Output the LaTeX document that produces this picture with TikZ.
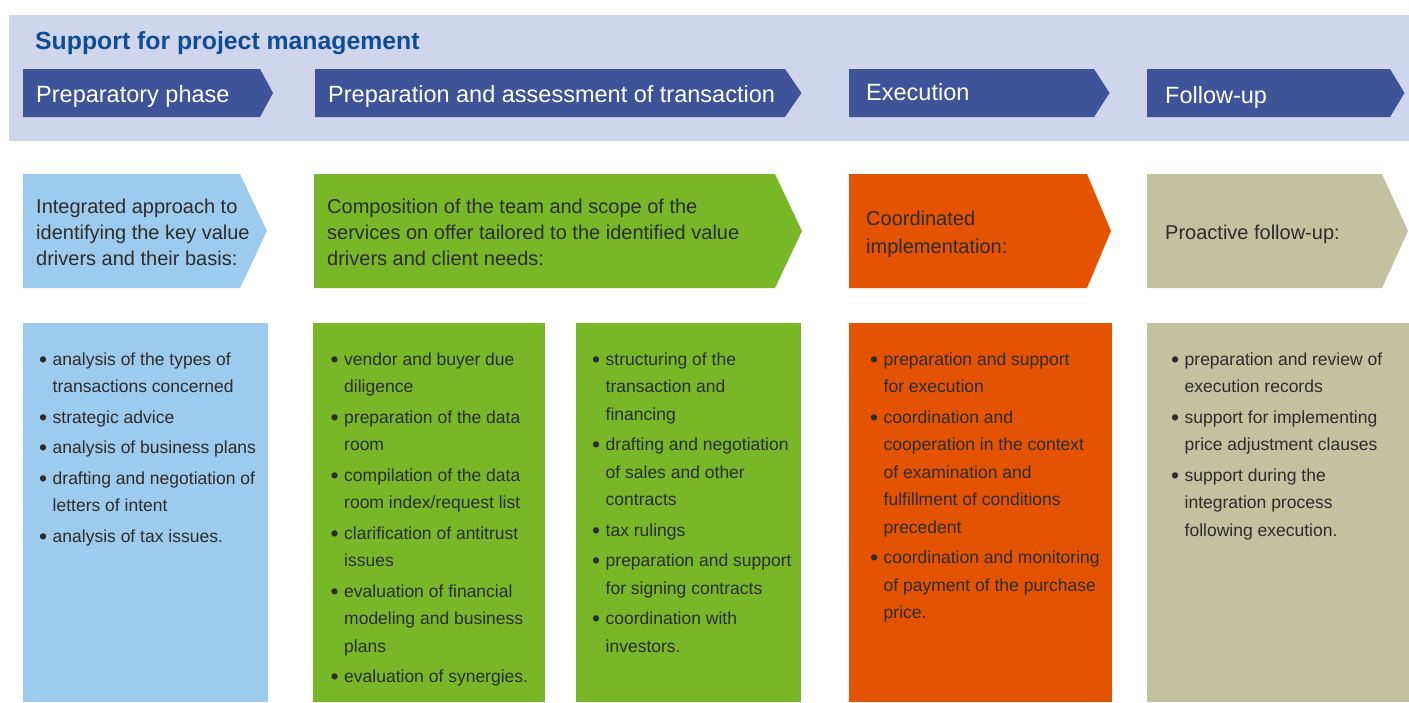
\documentclass[tikz,border=0pt]{standalone}
\usepackage{fontspec}
\setmainfont{Liberation Sans}
\usepackage{tikz}

\definecolor{bandgrey}{HTML}{CFD5EA}
\definecolor{phaseblue}{HTML}{3F5398}
\definecolor{titleblue}{HTML}{0F4C96}
\definecolor{skyblue}{HTML}{9DCBEE}
\definecolor{leafgreen}{HTML}{78B828}
\definecolor{rustorange}{HTML}{E45302}
\definecolor{sandbeige}{HTML}{C2C1A0}
\definecolor{inkgrey}{HTML}{2C2C2C}

\newcommand{\bul}{\makebox[13.5pt][l]{\raisebox{-2.2pt}{\fontsize{23}{23}\selectfont\textbullet}}}
\newcommand{\hng}{\hspace*{13.5pt}}

\begin{document}
\begin{tikzpicture}[x=1pt,y=1pt]
\tikzstyle{every node}+=[inner sep=0pt]
\tikzstyle{phase}=[anchor=base west, text=white, font=\fontsize{23.5}{28}\selectfont]
\tikzstyle{lead}=[anchor=north west, align=left, text=inkgrey, font=\fontsize{20}{26}\selectfont]
\tikzstyle{items}=[anchor=north west, align=left, text=inkgrey, font=\fontsize{17.5}{27.5}\selectfont]
\useasboundingbox (0,0) rectangle (1409,-702);
% header band
\fill [bandgrey] (9,-15) rectangle (1409,-141);
\draw (35,-49.5) node (title) [anchor=base west, text=titleblue, font=\bfseries\fontsize{24.8}{28}\selectfont] {Support for project management};
% phases
\fill [phaseblue] (23,-69) -- (260,-69) -- (273,-93) -- (260,-117) -- (23,-117) -- cycle;
\draw (36,-102) node (p1) [phase] {Preparatory phase};
\fill [phaseblue] (315,-69) -- (785,-69) -- (801.5,-93) -- (785,-117) -- (315,-117) -- cycle;
\draw (328,-102.5) node (p2) [phase] {Preparation and assessment of transaction};
\fill [phaseblue] (849,-69) -- (1094,-69) -- (1109.5,-93) -- (1094,-117) -- (849,-117) -- cycle;
\draw (866,-100) node (p3) [phase] {Execution};
\fill [phaseblue] (1147,-69) -- (1390,-69) -- (1404.5,-93) -- (1390,-117) -- (1147,-117) -- cycle;
\draw (1165,-103) node (p4) [phase] {Follow-up};
% approach
\fill [skyblue] (23,-174) -- (240,-174) -- (267,-231) -- (240,-288) -- (23,-288) -- cycle;
\draw (36,-194.8) node (a1) [lead] {\strut Integrated approach to\\identifying the key value\\drivers and their basis:};
\fill [leafgreen] (314,-174) -- (775,-174) -- (802,-231) -- (775,-288) -- (314,-288) -- cycle;
\draw (327,-194.8) node (a2) [lead] {\strut Composition of the team and scope of the\\services on offer tailored to the identified value\\drivers and client needs:};
\fill [rustorange] (849,-174) -- (1087,-174) -- (1111,-231) -- (1087,-288) -- (849,-288) -- cycle;
\draw (866,-206.8) node (a3) [lead] {\strut Coordinated\\[2pt]implementation:};
\fill [sandbeige] (1147,-174) -- (1382,-174) -- (1408,-231) -- (1382,-288) -- (1147,-288) -- cycle;
\draw (1165,-220.8) node (a4) [lead] {\strut Proactive follow-up:};
% services
\fill [skyblue] (23,-323) rectangle (268,-702);
\draw (39,-345.75) node (b1) [items] {\strut\bul analysis of the types of\\\hng transactions concerned\\[3pt]
\bul strategic advice\\[3pt]
\bul analysis of business plans\\[3pt]
\bul drafting and negotiation of\\\hng letters of intent\\[3pt]
\bul analysis of tax issues.};
\fill [leafgreen] (313,-323) rectangle (545,-702);
\draw (330.5,-345.75) node (b2) [items] {\strut\bul vendor and buyer due\\\hng diligence\\[3pt]
\bul preparation of the data\\\hng room\\[3pt]
\bul compilation of the data\\\hng room index/request list\\[3pt]
\bul clarification of antitrust\\\hng issues\\[3pt]
\bul evaluation of financial\\\hng modeling and business\\\hng plans\\[3pt]
\bul evaluation of synergies.};
\fill [leafgreen] (576,-323) rectangle (801,-702);
\draw (592,-345.75) node (b3) [items] {\strut\bul structuring of the\\\hng transaction and\\\hng financing\\[3pt]
\bul drafting and negotiation\\\hng of sales and other\\\hng contracts\\[3pt]
\bul tax rulings\\[3pt]
\bul preparation and support\\\hng for signing contracts\\[3pt]
\bul coordination with\\\hng investors.};
\fill [rustorange] (849,-323) rectangle (1112,-702);
\draw (870,-345.75) node (b4) [items] {\strut\bul preparation and support\\\hng for execution\\[3pt]
\bul coordination and\\\hng cooperation in the context\\\hng of examination and\\\hng fulfillment of conditions\\\hng precedent\\[3pt]
\bul coordination and monitoring\\\hng of payment of the purchase\\\hng price.};
\fill [sandbeige] (1147,-323) rectangle (1409,-702);
\draw (1171,-345.75) node (b5) [items] {\strut\bul preparation and review of\\\hng execution records\\[3pt]
\bul support for implementing\\\hng price adjustment clauses\\[3pt]
\bul support during the\\\hng integration process\\\hng following execution.};
\end{tikzpicture}
\end{document}
